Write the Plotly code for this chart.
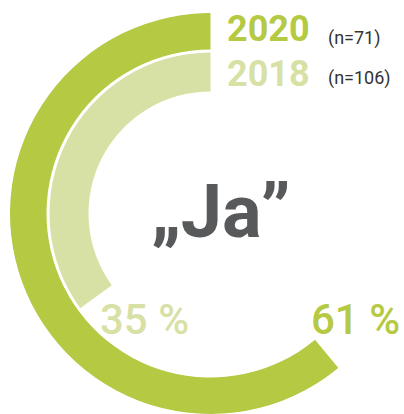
import math
import plotly.graph_objects as go

# ---- data ----
years = ["2020", "2018"]
shares = [61, 35]          # percent answering "Ja"
sample_sizes = [71, 106]
center_label = "\u201eJa\u201d"

# ---- style ----
colors = ["#b5c943", "#d8e1a5"]
ring_base = [164, 122]     # inner radius of each ring (radial units = px)
ring_width = [37, 39]
W, H = 404, 414
cx, cy, R = 210.5, 213.5, 200.5   # polar centre / radius in px (cy from top)
FONT = "Roboto, sans-serif"

# sector covering the drawn arcs (screen angles, ccw from right)
sector = [88, 312]
def bbox(sec):
    a0, a1 = [math.radians(s) for s in sec]
    pts = [(0.0, 0.0)]
    angs = [a0, a1] + [math.radians(k * 90) for k in range(-4, 8) if a0 <= math.radians(k * 90) <= a1]
    pts += [(math.cos(a), math.sin(a)) for a in angs]
    xs, ys = zip(*pts)
    return min(xs), max(xs), min(ys), max(ys)

xmin, xmax, ymin, ymax = bbox(sector)
x0 = (cx + xmin * R) / W
x1 = (cx + xmax * R) / W
y_top = cy - ymax * R
y_bot = cy - ymin * R
y0 = max(0.0, 1 - y_bot / H)
y1 = min(1.0, 1 - y_top / H)

fig = go.Figure()
for yr, s, c, b, w in zip(years, shares, colors, ring_base, ring_width):
    span = s / 100 * 360
    fig.add_trace(go.Barpolar(
        r=[w], base=[b], theta=[span / 2], width=[span],
        marker=dict(color=c, line=dict(width=0)),
        name=yr, hoverinfo="skip",
    ))

fig.update_layout(
    width=W, height=H,
    margin=dict(l=0, r=0, t=0, b=0, pad=0),
    paper_bgcolor="white", plot_bgcolor="white",
    showlegend=False,
    polar=dict(
        domain=dict(x=[x0, x1], y=[y0, y1]),
        sector=sector,
        bgcolor="rgba(0,0,0,0)",
        radialaxis=dict(range=[0, R], visible=False, showgrid=False),
        angularaxis=dict(rotation=90, direction="counterclockwise",
                         visible=False, showgrid=False),
        bargap=0,
    ),
)

def px(x, y):
    return x / W, 1 - y / H

anns = []
# legend-like year labels
year_y = [29, 74]
n_y = [38, 78]
for yr, n, c, yy, ny in zip(years, sample_sizes, colors, year_y, n_y):
    ax, ay = px(225, yy)
    anns.append(dict(x=ax, y=ay, xref="paper", yref="paper", text=yr,
                     showarrow=False, xanchor="left", yanchor="middle",
                     font=dict(family=FONT, size=36, color=c, weight=700)))
    bx, by = px(326, ny)
    anns.append(dict(x=bx, y=by, xref="paper", yref="paper", text=f"(n={n})",
                     showarrow=False, xanchor="left", yanchor="middle",
                     font=dict(family=FONT, size=18, color="#333333")))

# centre label
mx, my = px(221, 211)
anns.append(dict(x=mx, y=my, xref="paper", yref="paper", text=center_label,
                 showarrow=False, xanchor="center", yanchor="middle",
                 font=dict(family=FONT, size=74, color="#58595b", weight=700)))

# percentage labels
pct_x = [402, 191]
for s, c, xx in zip(shares, colors, pct_x):
    lx, ly = px(xx, 319)
    anns.append(dict(x=lx, y=ly, xref="paper", yref="paper", text=f"{s} %",
                     showarrow=False, xanchor="right", yanchor="middle",
                     font=dict(family=FONT, size=42, color=c, weight=500)))

fig.update_layout(annotations=anns)
fig.write_html("out.html")
